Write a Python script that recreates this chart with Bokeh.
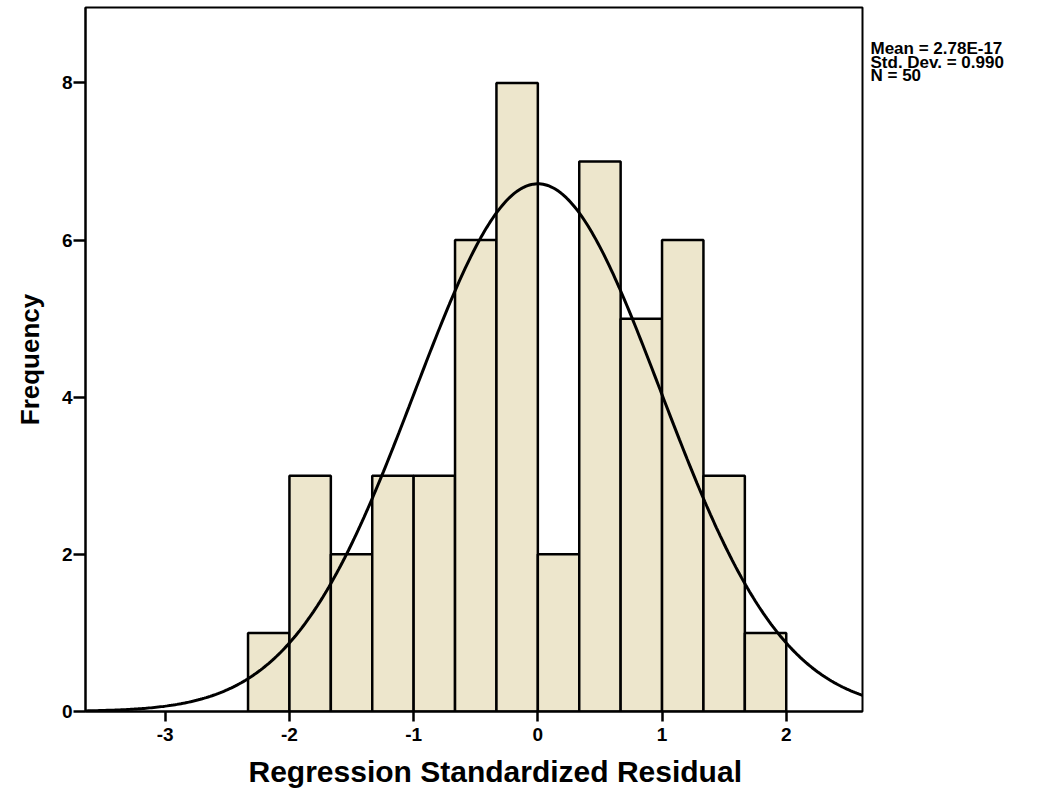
import numpy as np
from bokeh.plotting import figure
from bokeh.layouts import row
from bokeh.models import Range1d, FixedTicker, Title
from bokeh.embed import file_html
from bokeh.resources import INLINE

# ---- data ----
bin_left = [-7/3, -2, -5/3, -4/3, -1, -2/3, -1/3, 0, 1/3, 2/3, 1, 4/3, 5/3]
bin_width = 1/3
counts = [1, 3, 2, 3, 3, 6, 8, 2, 7, 5, 6, 3, 1]
stat_mean = 2.78e-17
stat_sd = 0.990
stat_n = 50
x_ticks = [-3, -2, -1, 0, 1, 2]
x_tick_labels = ["-3", "-2", "-1", "0", "1", "2"]
y_ticks = [0, 2, 4, 6, 8]
stats_text = ["Mean = 2.78E-17", "Std. Dev. = 0.990", "N = 50"]

FONT = "Liberation Sans"

x0, x1 = -3.642, 2.614
y0, y1 = 0, 8.96
H = 800

p = figure(width=866, height=H, output_backend="svg", toolbar_location=None,
           x_range=Range1d(x0, x1), y_range=Range1d(y0, y1),
           min_border_left=85, min_border_right=4, min_border_top=7,
           min_border_bottom=89)
p.background_fill_color = "white"
p.border_fill_color = "white"
p.outline_line_color = "black"
p.outline_line_width = 2
p.grid.visible = False

lefts = np.array(bin_left)
p.quad(left=lefts, right=lefts + bin_width, bottom=0, top=counts,
       fill_color="#ede6cc", line_color="black", line_width=2.5)

# normal curve from the stated mean / sd / N
xs = np.linspace(x0, x1, 400)
ys = stat_n * bin_width * np.exp(-0.5 * ((xs - stat_mean) / stat_sd) ** 2) / (stat_sd * np.sqrt(2 * np.pi))
p.line(xs, ys, line_color="black", line_width=3)

for ax in (p.xaxis, p.yaxis):
    ax.axis_line_color = "black"
    ax.axis_line_width = 2
    ax.major_tick_line_color = "black"
    ax.major_tick_line_width = 2.5
    ax.major_tick_in = 0
    ax.minor_tick_line_color = None
    ax.major_label_text_font = FONT
    ax.major_label_text_font_style = "bold"
    ax.major_label_text_font_size = "19px"
    ax.major_label_text_color = "black"
    ax.axis_label_text_font = FONT
    ax.axis_label_text_font_style = "bold"
    ax.axis_label_text_color = "black"

p.xaxis.major_tick_out = 10
p.yaxis.major_tick_out = 12
p.xaxis.ticker = FixedTicker(ticks=x_ticks)
p.xaxis.major_label_overrides = {t: s for t, s in zip(x_ticks, x_tick_labels)}
p.yaxis.ticker = FixedTicker(ticks=y_ticks)
p.xaxis.major_label_standoff = 6
p.yaxis.major_label_standoff = 1
p.yaxis.axis_label = "Frequency"
p.yaxis.axis_label_text_font_size = "26px"
p.yaxis.axis_label_standoff = 14

p.add_layout(Title(text="Regression Standardized Residual", align="left",
                   offset=163, standoff=19, text_font=FONT,
                   text_font_style="bold", text_font_size="30px",
                   text_color="black"), "below")

# side panel with the summary statistics
s = figure(width=165, height=H, output_backend="svg", toolbar_location=None,
           x_range=Range1d(0, 165), y_range=Range1d(H, 0),
           min_border_left=0, min_border_right=0, min_border_top=0,
           min_border_bottom=0)
s.axis.visible = False
s.grid.visible = False
s.outline_line_color = None
s.background_fill_color = "white"
s.border_fill_color = "white"
s.text(x=[4, 4, 4], y=[47, 62, 77], text=stats_text,
       text_font={"value": FONT}, text_font_style="bold",
       text_font_size={"value": "17px"}, text_color="black",
       text_baseline="middle", text_align="left")

layout = row(p, s, spacing=0)
open("out.html", "w").write(file_html(layout, INLINE))
